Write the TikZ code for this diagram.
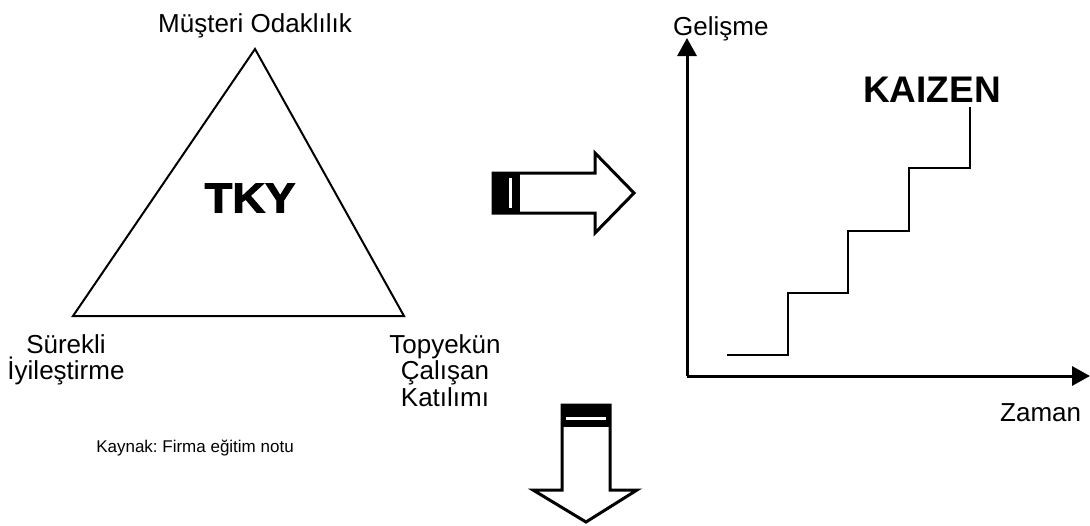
\documentclass[tikz,border=0pt]{standalone}
\usepackage{fontspec}
\setmainfont{Liberation Sans}
\newfontfamily\blackfont[FakeBold=2.5,FakeStretch=1.08]{Liberation Sans}
\usetikzlibrary{positioning,arrows.meta,calc}
\frenchspacing

\begin{document}
\begin{tikzpicture}[x=1pt, y=-1pt, >={Triangle[length=18pt,width=19pt]},
          lbl/.style={font=\fontsize{26}{26.5}\selectfont, align=center, inner sep=0pt},
          axis/.style={line width=3pt, ->},
          blockarrow/.style={line width=3pt, fill=white, line join=miter}]
        \useasboundingbox (0,0) rectangle (1090,525);
        % triangle of the three principles
        \coordinate (top) at (255,49);
        \coordinate (left) at (73,316);
        \coordinate (right) at (404,316);
        \draw[line width=2pt, line join=miter] (top) -- (right) -- (left) -- cycle;
        \node[font=\blackfont\bfseries\fontsize{42}{44}\selectfont, inner sep=0pt] (tky) at (250,198) {TKY};
        \node[lbl, anchor=base] (musteri) at (255,32) {Müşteri Odaklılık};
        \node[lbl, anchor=north] (surekli) at (66,334) {Sürekli\\İyileştirme};
        \node[lbl, anchor=north] (topyekun) at (445,334) {Topyekün\\Çalışan\\Katılımı};
        \node[font=\fontsize{17}{20}\selectfont, inner sep=0pt, anchor=base] (kaynak) at (195,452) {Kaynak: Firma eğitim notu};
        % block arrow to the right
        \draw[blockarrow] (493,173) -- (595,173) -- (595,153) -- (634,193) -- (595,233) -- (595,213) -- (493,213) -- cycle;
        \fill (493,173) rectangle (520,213);
        \fill[white] (508.5,178) rectangle (511.5,208);
        % block arrow downwards
        \draw[blockarrow] (562,405) -- (610,405) -- (610,490) -- (637,490) -- (586,522) -- (533,490) -- (562,490) -- cycle;
        \fill (562,405) rectangle (610,427);
        \fill[white] (566,417) rectangle (606,419.5);
        % kaizen chart
        \coordinate (o) at (687,376);
        \coordinate (ytop) at (687,38);
        \coordinate (xend) at (1090,376);
        \draw[axis] (o) -- (ytop);
        \draw[axis] (o) -- (xend);
        \node[lbl, anchor=base west] (gelisme) at (673,35) {Gelişme};
        \node[lbl, anchor=base west] (zaman) at (1000,421) {Zaman};
        \node[font=\bfseries\fontsize{37}{40}\selectfont, inner sep=0pt, anchor=base west] (kaizen) at (863,102) {KAIZEN};
        \draw[line width=1.7pt] (727,355) -| (788,293) -| (848,231) -| (909,168) -| (970,107);
      \end{tikzpicture}
\end{document}
